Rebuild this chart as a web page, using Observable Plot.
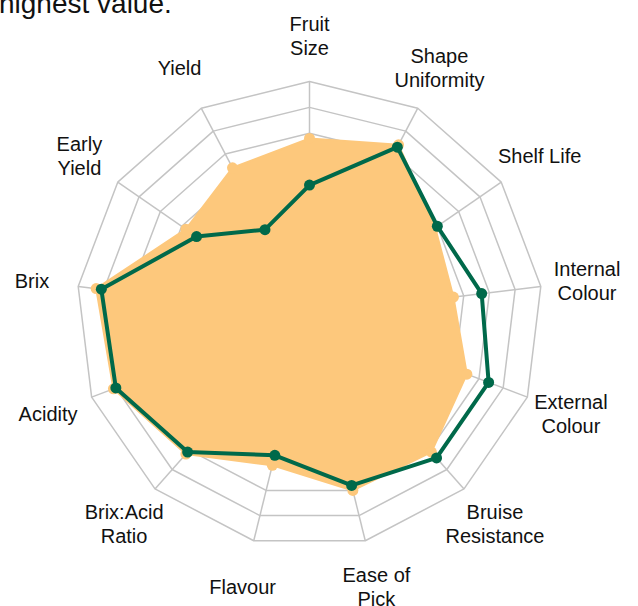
<!DOCTYPE html>
<html><head><meta charset="utf-8">
<script src="https://cdn.jsdelivr.net/npm/d3@7"></script>
<script src="https://cdn.jsdelivr.net/npm/@observablehq/plot@0.6"></script>
<style>
html,body{margin:0;padding:0;background:#fff;overflow:hidden}
#wrap{position:relative;width:638px;height:606px;overflow:hidden}
#note{position:absolute;left:-1px;top:-10px;font-family:"Liberation Sans",Arial,sans-serif;font-size:28px;line-height:1;color:#111;white-space:nowrap}
</style></head><body>
<div id="wrap"><div id="chart"></div><div id="note">highest value.</div></div>
<script>
// Data
const traits = ["Fruit Size","Shape Uniformity","Shelf Life","Internal Colour","External Colour","Bruise Resistance","Ease of Pick","Flavour","Brix:Acid Ratio","Acidity","Brix","Early Yield","Yield"];
const traitLabels = ["Fruit\nSize","Shape\nUniformity","Shelf Life","Internal\nColour","External\nColour","Bruise\nResistance","Ease of\nPick","Flavour","Brix:Acid\nRatio","Acidity","Brix","Early\nYield","Yield"];
const orangeValues = [6.8, 7.4, 5.9, 5.6, 6.5, 7.1, 7.0, 6.0, 7.2, 8.1, 8.3, 5.8, 6.4];
const greenValues  = [5.0, 7.3, 6.0, 6.7, 7.4, 7.4, 6.8, 5.6, 7.1, 8.0, 8.1, 5.3, 3.7];
const levels = [1,2,3,4,5,6,7,8,9];
const maxValue = 9;
const labelRadius = 10.8;

// Layout
const W = 638, H = 606, cx = 309, cy = 314, Rpx = 233;
const k = Rpx / maxValue; // px per unit
const n = traits.length;
const ang = i => i * 2 * Math.PI / n;
const pt = (i, r) => ({x: r * Math.sin(ang(i)), y: r * Math.cos(ang(i))});

const ringData = levels.flatMap(l => traits.map((t, i) => ({level: l, ...pt(i, l)})));
const spokeData = traits.map((t, i) => ({x2: pt(i, maxValue).x, y2: pt(i, maxValue).y}));
const orangeData = traits.map((t, i) => ({trait: t, ...pt(i, orangeValues[i])}));
const greenData = traits.map((t, i) => ({trait: t, ...pt(i, greenValues[i])}));
const labelData = traitLabels.map((t, i) => ({label: t, ...pt(i, labelRadius)}));

const orange = "#fdc87c", green = "#00694a", gridC = "#c4c4c4";

const chart = Plot.plot({
  width: W, height: H,
  margin: 0,
  x: {domain: [-cx / k, (W - cx) / k], axis: null},
  y: {domain: [-(H - cy) / k, cy / k], axis: null},
  style: {fontFamily: "'Liberation Sans', Arial, sans-serif", background: "#fff"},
  marks: [
    Plot.link(spokeData, {x1: 0, y1: 0, x2: "x2", y2: "y2", stroke: gridC, strokeWidth: 1.5}),
    Plot.line(ringData, {x: "x", y: "y", z: "level", curve: "linear-closed", stroke: gridC, strokeWidth: 1.5}),
    Plot.line(orangeData, {x: "x", y: "y", curve: "linear-closed", fill: orange, stroke: orange, strokeWidth: 2}),
    Plot.dot(orangeData, {x: "x", y: "y", r: 5.5, fill: orange}),
    Plot.line(greenData, {x: "x", y: "y", curve: "linear-closed", stroke: green, strokeWidth: 4}),
    Plot.dot(greenData, {x: "x", y: "y", r: 5.5, fill: green}),
    Plot.text(labelData, {x: "x", y: "y", text: "label", fontSize: 20, lineHeight: 1.2, textAnchor: "middle", lineAnchor: "middle", fill: "#111"})
  ]
});
document.getElementById("chart").appendChild(chart);
</script>
</body></html>
